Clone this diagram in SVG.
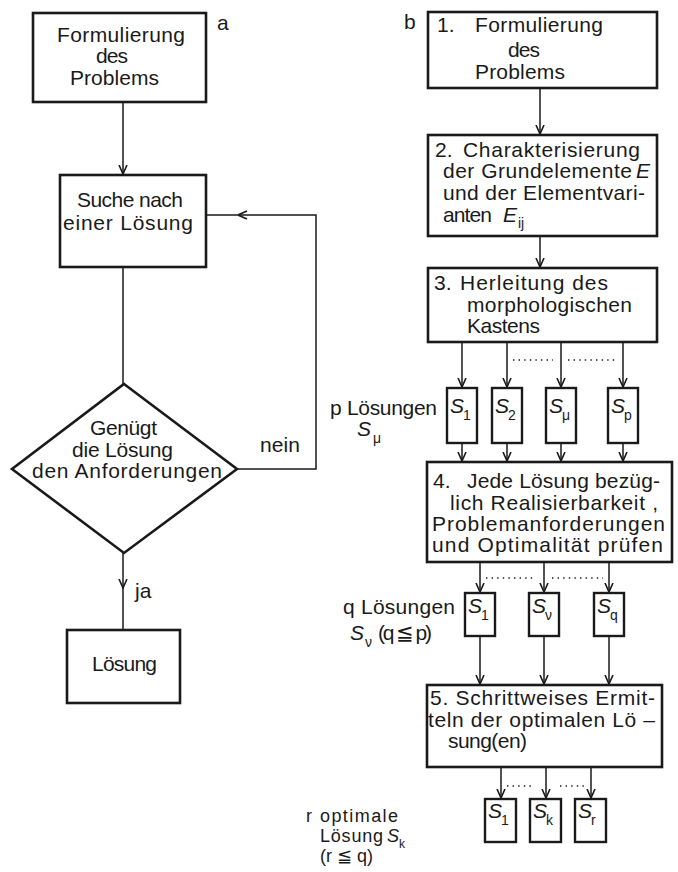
<svg xmlns="http://www.w3.org/2000/svg" width="678" height="872" viewBox="0 0 678 872">
<defs>
<style>
.bx{fill:none;stroke:#1a1a1a;stroke-width:2.6}
.sb{fill:none;stroke:#1a1a1a;stroke-width:2.4}
.ln{fill:none;stroke:#1a1a1a;stroke-width:1.5}
.dot{fill:none;stroke:#1a1a1a;stroke-width:1.4;stroke-dasharray:1.4 4.2}
text{font-family:"Liberation Sans",Arial,sans-serif;font-size:21px;fill:#1a1a1a}
.c{text-anchor:middle}
.it{font-style:italic}
.sub{font-size:14px}
.sm{font-size:18px}
.smsub{font-size:12px}
</style>
<marker id="ah" viewBox="0 0 10 10" refX="9.5" refY="5" markerWidth="10" markerHeight="10" markerUnits="userSpaceOnUse" orient="auto">
<path d="M0.5,1 L9.5,5 L0.5,9" fill="none" stroke="#1a1a1a" stroke-width="1.6"/>
</marker>
</defs>
<rect width="678" height="872" fill="#ffffff"/>

<g id="connectors">
<!-- panel a -->
<line class="ln" x1="123" y1="102" x2="123" y2="174" marker-end="url(#ah)"/>
<line class="ln" x1="123" y1="267" x2="123" y2="385"/>
<polyline class="ln" points="237,469 316,469 316,215 238,215" marker-end="url(#ah)"/>
<line class="ln" x1="238" y1="215" x2="206" y2="215"/>
<line class="ln" x1="123" y1="553" x2="123" y2="588" marker-end="url(#ah)"/>
<line class="ln" x1="123" y1="588" x2="123" y2="630"/>
<!-- panel b -->
<line class="ln" x1="540" y1="88" x2="540" y2="134" marker-end="url(#ah)"/>
<line class="ln" x1="540" y1="236" x2="540" y2="267" marker-end="url(#ah)"/>
<line class="ln" x1="462" y1="342" x2="462" y2="387" marker-end="url(#ah)"/>
<line class="ln" x1="507" y1="342" x2="507" y2="387" marker-end="url(#ah)"/>
<line class="ln" x1="561" y1="342" x2="561" y2="387" marker-end="url(#ah)"/>
<line class="ln" x1="623" y1="342" x2="623" y2="387" marker-end="url(#ah)"/>
<line class="dot" x1="513" y1="360" x2="553" y2="360"/>
<line class="dot" x1="568" y1="360" x2="618" y2="360"/>
<line class="ln" x1="462" y1="443" x2="462" y2="461" marker-end="url(#ah)"/>
<line class="ln" x1="507" y1="443" x2="507" y2="461" marker-end="url(#ah)"/>
<line class="ln" x1="561" y1="443" x2="561" y2="461" marker-end="url(#ah)"/>
<line class="ln" x1="623" y1="443" x2="623" y2="461" marker-end="url(#ah)"/>
<line class="ln" x1="480" y1="562" x2="480" y2="592" marker-end="url(#ah)"/>
<line class="ln" x1="544" y1="562" x2="544" y2="592" marker-end="url(#ah)"/>
<line class="ln" x1="609" y1="562" x2="609" y2="592" marker-end="url(#ah)"/>
<line class="dot" x1="486" y1="578" x2="536" y2="578"/>
<line class="dot" x1="552" y1="578" x2="603" y2="578"/>
<line class="ln" x1="480" y1="636" x2="480" y2="684" marker-end="url(#ah)"/>
<line class="ln" x1="544" y1="636" x2="544" y2="684" marker-end="url(#ah)"/>
<line class="ln" x1="609" y1="636" x2="609" y2="684" marker-end="url(#ah)"/>
<line class="ln" x1="501" y1="767" x2="501" y2="798" marker-end="url(#ah)"/>
<line class="ln" x1="546" y1="767" x2="546" y2="798" marker-end="url(#ah)"/>
<line class="ln" x1="591" y1="767" x2="591" y2="798" marker-end="url(#ah)"/>
<line class="dot" x1="507" y1="786" x2="531" y2="786"/>
<line class="dot" x1="560" y1="786" x2="584" y2="786"/>
</g>

<!-- panel a -->
<text x="217" y="30">a</text>
<g id="a1">
<rect class="bx" x="33" y="13" width="173" height="89"/>
<text x="57" y="42" textLength="128" lengthAdjust="spacing">Formulierung</text>
<text x="96" y="63" textLength="32" lengthAdjust="spacing">des</text>
<text x="70" y="85" textLength="89" lengthAdjust="spacing">Problems</text>
</g>
<g id="a2">
<rect class="bx" x="60" y="175" width="146" height="92"/>
<text x="77" y="207" textLength="106" lengthAdjust="spacing">Suche nach</text>
<text x="63" y="230" textLength="130" lengthAdjust="spacing">einer Lösung</text>
</g>
<g id="a3">
<polygon class="bx" points="124,384 237,469 124,553 12,469"/>
<text x="90" y="435" textLength="67" lengthAdjust="spacing">Genügt</text>
<text x="72" y="457" textLength="101" lengthAdjust="spacing">die Lösung</text>
<text x="32" y="478" textLength="190" lengthAdjust="spacing">den Anforderungen</text>
</g>
<text x="260" y="452" textLength="40" lengthAdjust="spacing">nein</text>
<text x="135" y="598">ja</text>
<g id="a4">
<rect class="bx" x="67" y="630" width="113" height="73"/>
<text x="92" y="671" textLength="65" lengthAdjust="spacing">Lösung</text>
</g>

<!-- panel b -->
<text x="404" y="29">b</text>
<g id="b1">
<rect class="bx" x="428" y="12" width="229" height="76"/>
<text x="437" y="32">1.</text>
<text x="475" y="32" textLength="128" lengthAdjust="spacing">Formulierung</text>
<text x="508" y="57" textLength="32" lengthAdjust="spacing">des</text>
<text x="475" y="79" textLength="90" lengthAdjust="spacing">Problems</text>
</g>
<g id="b2">
<rect class="bx" x="428" y="135" width="229" height="101"/>
<text x="435" y="157">2.</text>
<text x="463" y="157" textLength="177" lengthAdjust="spacing">Charakterisierung</text>
<text x="443" y="178" textLength="189" lengthAdjust="spacing">der Grundelemente</text>
<text x="636" y="178" class="it">E</text>
<text x="443" y="200" textLength="202" lengthAdjust="spacing">und der Elementvari-</text>
<text x="443" y="222" textLength="49" lengthAdjust="spacing">anten</text>
<text x="503" y="222" class="it">E</text>
<text x="518" y="228" class="sub">ij</text>
</g>
<g id="b3">
<rect class="bx" x="428" y="268" width="229" height="74"/>
<text x="434" y="290">3.</text>
<text x="460" y="290" textLength="148" lengthAdjust="spacing">Herleitung des</text>
<text x="467" y="312" textLength="165" lengthAdjust="spacing">morphologischen</text>
<text x="467" y="333" textLength="73" lengthAdjust="spacing">Kastens</text>
</g>
<text x="330" y="415" textLength="107" lengthAdjust="spacing">p Lösungen</text>
<text x="357" y="436" class="it">S</text>
<text x="373" y="443" class="sub">μ</text>
<g id="s1p">
<rect class="sb" x="447" y="388" width="30" height="55"/>
<text x="450" y="413" class="it">S</text>
<text x="463" y="420" class="sub">1</text>
</g>
<g id="s2p">
<rect class="sb" x="492" y="388" width="30" height="55"/>
<text x="495" y="413" class="it">S</text>
<text x="508" y="420" class="sub">2</text>
</g>
<g id="smu">
<rect class="sb" x="546" y="388" width="30" height="55"/>
<text x="549" y="413" class="it">S</text>
<text x="562" y="420" class="sub">μ</text>
</g>
<g id="sp">
<rect class="sb" x="608" y="388" width="30" height="55"/>
<text x="611" y="413" class="it">S</text>
<text x="624" y="420" class="sub">p</text>
</g>
<g id="b4">
<rect class="bx" x="427" y="462" width="245" height="100"/>
<text x="433" y="488">4.</text>
<text x="467" y="488" textLength="193" lengthAdjust="spacing">Jede Lösung bezüg-</text>
<text x="450" y="510" textLength="208" lengthAdjust="spacing">lich Realisierbarkeit ,</text>
<text x="432" y="531" textLength="233" lengthAdjust="spacing">Problemanforderungen</text>
<text x="432" y="552" textLength="231" lengthAdjust="spacing">und Optimalität prüfen</text>
</g>
<text x="343" y="614" textLength="112" lengthAdjust="spacing">q Lösungen</text>
<text x="350" y="640" class="it">S</text>
<text x="365" y="647" class="sub">ν</text>
<text x="378" y="640" textLength="54" lengthAdjust="spacing">(q ≦ p)</text>
<g id="s1q">
<rect class="sb" x="465" y="593" width="30" height="43"/>
<text x="468" y="613" class="it">S</text>
<text x="481" y="620" class="sub">1</text>
</g>
<g id="snu">
<rect class="sb" x="529" y="593" width="30" height="43"/>
<text x="532" y="613" class="it">S</text>
<text x="545" y="620" class="sub">ν</text>
</g>
<g id="sq">
<rect class="sb" x="594" y="593" width="30" height="43"/>
<text x="597" y="613" class="it">S</text>
<text x="610" y="620" class="sub">q</text>
</g>
<g id="b5">
<rect class="bx" x="427" y="685" width="235" height="82"/>
<text x="430" y="705" textLength="225" lengthAdjust="spacing">5. Schrittweises Ermit-</text>
<text x="428" y="727" textLength="227" lengthAdjust="spacing">teln der optimalen Lö –</text>
<text x="448" y="748" textLength="79" lengthAdjust="spacing">sung(en)</text>
</g>
<g id="s1r">
<rect class="sb" x="485" y="799" width="31" height="43"/>
<text x="488" y="818" class="it">S</text>
<text x="501" y="825" class="sub">1</text>
</g>
<g id="sk">
<rect class="sb" x="530" y="799" width="31" height="43"/>
<text x="533" y="818" class="it">S</text>
<text x="546" y="825" class="sub">k</text>
</g>
<g id="sr">
<rect class="sb" x="575" y="799" width="31" height="43"/>
<text x="578" y="818" class="it">S</text>
<text x="591" y="825" class="sub">r</text>
</g>
<text x="306" y="822" class="sm">r</text>
<text x="320" y="822" class="sm" textLength="78" lengthAdjust="spacing">optimale</text>
<text x="320" y="842" class="sm" textLength="63" lengthAdjust="spacing">Lösung</text>
<text x="387" y="842" class="sm it">S</text>
<text x="399" y="848" class="smsub">k</text>
<text x="320" y="862" class="sm" textLength="53" lengthAdjust="spacing">(r ≦ q)</text>
</svg>
